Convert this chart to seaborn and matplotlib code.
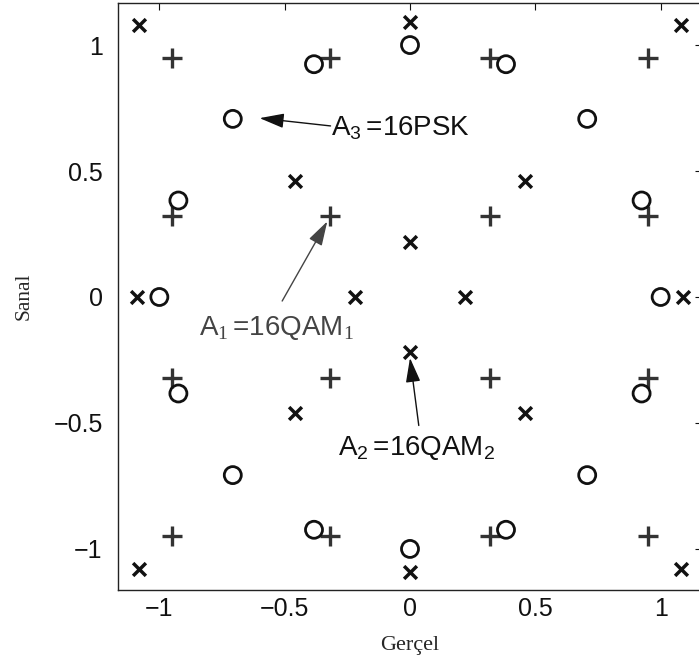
import numpy as np
import pandas as pd
import matplotlib
matplotlib.use("Agg")
import matplotlib.pyplot as plt
import seaborn as sns

# 16QAM_1 (+) : square grid
qam1_x = [-0.95, -0.32, 0.32, 0.95, -0.95, -0.32, 0.32, 0.95,
          -0.95, -0.32, 0.32, 0.95, -0.95, -0.32, 0.32, 0.95]
qam1_y = [0.95, 0.95, 0.95, 0.95, 0.32, 0.32, 0.32, 0.32,
          -0.32, -0.32, -0.32, -0.32, -0.95, -0.95, -0.95, -0.95]

# 16PSK (o) : unit circle
psk_x = [1.0, 0.924, 0.707, 0.383, 0.0, -0.383, -0.707, -0.924,
         -1.0, -0.924, -0.707, -0.383, 0.0, 0.383, 0.707, 0.924]
psk_y = [0.0, 0.383, 0.707, 0.924, 1.0, 0.924, 0.707, 0.383,
         0.0, -0.383, -0.707, -0.924, -1.0, -0.924, -0.707, -0.383]

# 16QAM_2 (x)
qam2_x = [-1.08, 0.0, 1.08, -0.46, 0.46, 0.0, -1.09, -0.22,
          0.22, 1.09, 0.0, -0.46, 0.46, -1.08, 0.0, 1.08]
qam2_y = [1.08, 1.09, 1.08, 0.46, 0.46, 0.22, 0.0, 0.0,
          0.0, 0.0, -0.22, -0.46, -0.46, -1.08, -1.09, -1.08]

ticks = [-1, -0.5, 0, 0.5, 1]
tick_labels = ["\u22121", "\u22120.5", "0", "0.5", "1"]

sns.set_style("white")
plt.rcParams["font.family"] = ["Liberation Sans", "DejaVu Sans"]
plt.rcParams["mathtext.default"] = "regular"
plt.rcParams["mathtext.fontset"] = "custom"
plt.rcParams["mathtext.rm"] = "Liberation Serif"

fig = plt.figure(figsize=(6.99, 6.65), dpi=100)
ax = fig.add_axes([0.1688, 0.1128, 0.8355, 0.8827])

df1 = pd.DataFrame({"x": qam1_x, "y": qam1_y})
df2 = pd.DataFrame({"x": psk_x, "y": psk_y})
df3 = pd.DataFrame({"x": qam2_x, "y": qam2_y})

sns.scatterplot(data=df1, x="x", y="y", ax=ax, marker="+", s=200,
                color="#333333", linewidth=2.4, legend=False)
sns.scatterplot(data=df2, x="x", y="y", ax=ax, marker="o", s=150,
                facecolors="none", edgecolor="#111111", linewidth=2.0, legend=False)
sns.scatterplot(data=df3, x="x", y="y", ax=ax, marker="x", s=85,
                color="#111111", linewidth=2.5, legend=False)

ax.set_xlim(-1.165, 1.165)
ax.set_ylim(-1.163, 1.167)
ax.set_xticks(ticks)
ax.set_xticklabels(tick_labels)
ax.set_yticks(ticks)
ax.set_yticklabels(tick_labels)
ax.tick_params(direction="in", length=5, width=0.8, top=True, right=True,
               labelsize=18, colors="#111111")
ax.tick_params(axis="x", pad=5)
ax.tick_params(axis="y", pad=11)
for sp in ax.spines.values():
    sp.set_linewidth(1.0)
    sp.set_color("#222222")

ax.set_xlabel("Gerçel", family=["Liberation Serif", "DejaVu Serif"], fontsize=16)
ax.set_ylabel("Sanal", family=["Liberation Serif", "DejaVu Serif"], fontsize=15.5)
ax.xaxis.set_label_coords(0.5, -0.094)
ax.xaxis.label.set_va("center")
ax.yaxis.set_label_coords(-0.160, 0.5)
ax.yaxis.label.set_va("center")

arrow_kw = "-|>,head_length=1.5,head_width=0.45"

# A3 -> 16PSK
ax.annotate("", xy=(-0.60, 0.71), xytext=(-0.317, 0.679),
            arrowprops=dict(arrowstyle=arrow_kw, color="#111111", lw=1.0,
                            shrinkA=0, shrinkB=0))
ax.text(-0.317, 0.643, r"A$_3\,$=16PSK", fontsize=20, color="#111111",
        ha="left", va="baseline")

# A1 -> 16QAM_1
ax.annotate("", xy=(-0.33, 0.30), xytext=(-0.51, -0.016),
            arrowprops=dict(arrowstyle=arrow_kw, color="#444444", lw=1.0,
                            shrinkA=0, shrinkB=0))
ax.text(-0.841, -0.151, r"A$_\mathrm{1}\,$=16QAM$_\mathrm{1}$", fontsize=20,
        color="#444444", ha="left", va="baseline")

# A2 -> 16QAM_2
ax.annotate("", xy=(0.0, -0.242), xytext=(0.035, -0.51),
            arrowprops=dict(arrowstyle=arrow_kw, color="#111111", lw=1.0,
                            shrinkA=0, shrinkB=0))
ax.text(-0.286, -0.627, r"A$_2\,$=16QAM$_2$", fontsize=20, color="#111111",
        ha="left", va="baseline")

fig.savefig("out.png", dpi=100)
